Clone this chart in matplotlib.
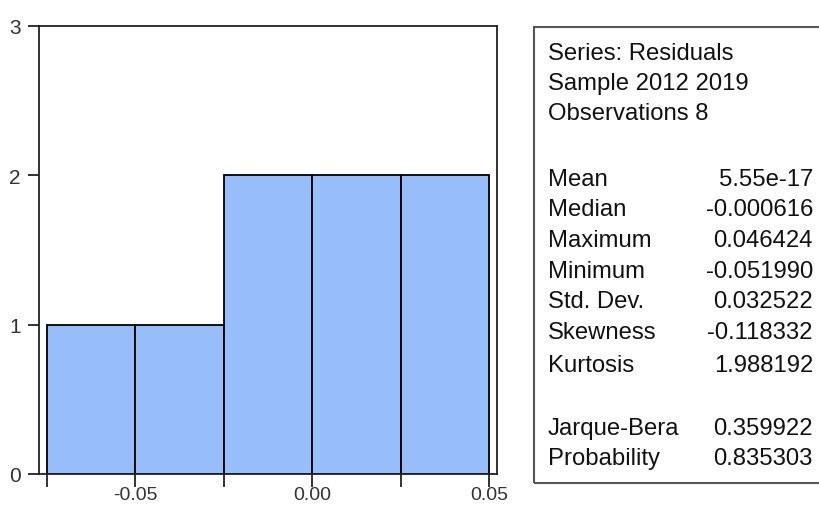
import matplotlib.pyplot as plt
from matplotlib.patches import Rectangle

# histogram of residuals
bin_left = [-0.075, -0.05, -0.025, 0.0, 0.025]
counts = [1, 1, 2, 2, 2]
bin_width = 0.025

# statistics box
header_lines = ["Series: Residuals", "Sample 2012 2019", "Observations 8"]
stat_names = ["Mean", "Median", "Maximum", "Minimum", "Std. Dev.",
              "Skewness", "Kurtosis", "Jarque-Bera", "Probability"]
stat_values = ["5.55e-17", "-0.000616", "0.046424", "-0.051990", "0.032522",
               "-0.118332", "1.988192", "0.359922", "0.835303"]

plt.rcParams['font.family'] = ['Liberation Sans', 'DejaVu Sans']

W, H = 819, 506
fig = plt.figure(figsize=(W / 100, H / 100), dpi=100)

# axes placed in pixel terms
left, right, top, bottom = 39, 497, 27, 475
ax = fig.add_axes([left / W, 1 - bottom / H, (right - left) / W, (bottom - top) / H])

ax.bar(bin_left, counts, width=bin_width, align='edge',
       color='#98BDFB', edgecolor='black', linewidth=1.3)

ax.set_xlim(-0.07712, 0.05226)
ax.set_ylim(0, 3)
ax.set_yticks([0, 1, 2, 3])
ax.set_xticks([-0.05, 0.0, 0.05])
ax.set_xticklabels(["-0.05", "0.00", "0.05"])
ax.set_xticks([-0.075, -0.025, 0.025], minor=True)
ax.tick_params(axis='both', which='both', direction='out', colors='#222222',
               labelcolor='#333333', labelsize=15, width=1.3)
ax.tick_params(axis='y', length=8, pad=5)
ax.tick_params(axis='x', which='both', length=9, pad=0)
ax.tick_params(axis='x', labelsize=14)
for s in ax.spines.values():
    s.set_linewidth(1.3)
    s.set_color('#222222')

# stats box drawn in figure pixel coordinates
def fx(px):
    return px / W

def fy(py):
    return 1 - py / H

box = Rectangle((fx(534), fy(484)), fx(300), (484 - 28) / H,
                transform=fig.transFigure, fill=False,
                edgecolor='#555555', linewidth=1.5)
fig.patches.append(box)

fs = 17.2
header_y = [60, 90, 120]
for txt, y in zip(header_lines, header_y):
    fig.text(fx(548), fy(y), txt, fontsize=fs, va='baseline', ha='left', color='#111111')

stat_y = [186, 216.5, 247, 278, 308, 339, 372, 435, 465]
for name, val, y in zip(stat_names, stat_values, stat_y):
    fig.text(fx(548), fy(y), name, fontsize=fs, va='baseline', ha='left', color='#111111')
    fig.text(fx(813), fy(y), val, fontsize=fs, va='baseline', ha='right', color='#111111')

fig.savefig('out.png', dpi=100)
